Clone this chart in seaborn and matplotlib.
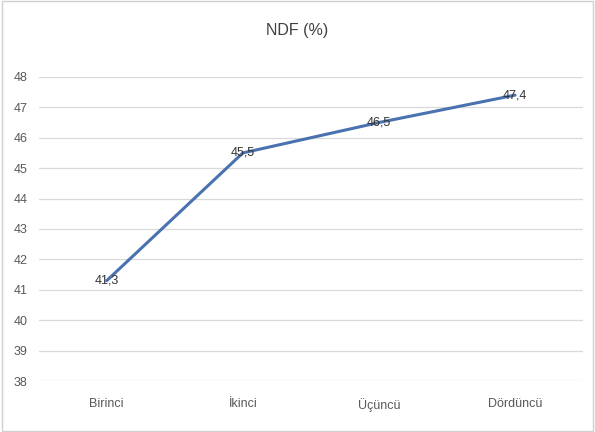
import matplotlib
matplotlib.use('Agg')
import matplotlib.pyplot as plt
import seaborn as sns
import pandas as pd

# NDF values per period
categories = ['Birinci', 'İkinci', 'Üçüncü', 'Dördüncü']
ndf = [41.3, 45.5, 46.5, 47.4]
yticks = list(range(38, 49))

sns.set_style('white')
plt.rcParams['font.family'] = ['Liberation Sans Narrow', 'Liberation Sans', 'DejaVu Sans']

df = pd.DataFrame({'period': categories, 'ndf': ndf})

fig = plt.figure(figsize=(5.95, 4.32), dpi=100)
ax = fig.add_axes([0.065, 0.118, 0.915, 0.704])

sns.lineplot(data=df, x='period', y='ndf', ax=ax, color='#4a72b0', linewidth=2.2, sort=False)

for i, v in enumerate(ndf):
    ax.text(i, v, f'{v:.1f}'.replace('.', ','), ha='center', va='center',
            fontsize=9, color='#333333')

ax.set_ylim(38, 48)
ax.set_yticks(yticks)
ax.set_xlim(-0.5, 3.5)
ax.yaxis.grid(True, color='#d9d9d9', linewidth=0.9)
ax.xaxis.grid(False)
for s in ax.spines.values():
    s.set_visible(False)
ax.tick_params(axis='both', length=0, labelsize=9, labelcolor='#595959')
ax.tick_params(axis='x', pad=12)
ax.tick_params(axis='y', pad=8)
ax.set_xlabel('')
ax.set_ylabel('')

fig.text(0.5, 0.93, 'NDF (%)', ha='center', va='center', fontsize=11.5, color='#404040')

# light frame around the chart
fig.patches.append(plt.Rectangle((0.003, 0.003), 0.994, 0.994, transform=fig.transFigure,
                                 fill=False, edgecolor='#d0d0d0', linewidth=1))

fig.savefig('out.png', dpi=100)
